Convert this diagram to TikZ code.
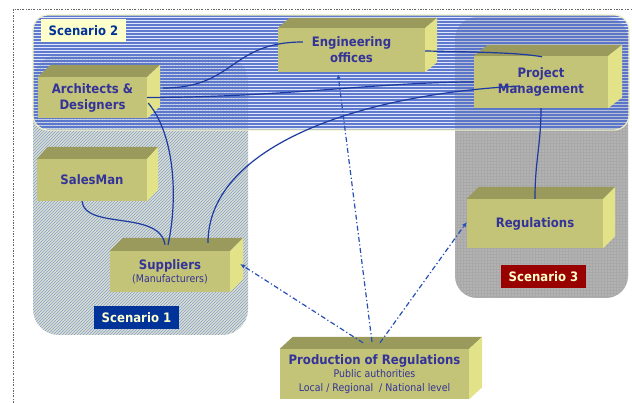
\documentclass[tikz,border=0pt]{standalone}
\usepackage{fontspec}
\setmainfont{DejaVu Sans}[FakeStretch=0.9]
\usetikzlibrary{patterns.meta,arrows.meta,calc}
\definecolor{boxfront}{RGB}{196,196,120}
\definecolor{boxtop}{RGB}{154,154,92}
\definecolor{boxside}{RGB}{226,226,136}
\definecolor{txtblue}{RGB}{51,51,153}
\definecolor{linkblue}{RGB}{28,58,160}
\definecolor{arrowblue}{RGB}{40,80,180}
\definecolor{sctwofill}{RGB}{200,212,244}
\definecolor{sctwoline}{RGB}{74,104,200}
\definecolor{sconefill}{RGB}{228,230,210}
\definecolor{sconeline}{RGB}{150,170,204}
\definecolor{scthreefill}{RGB}{168,168,168}
\definecolor{scthreedot}{RGB}{212,212,212}
\definecolor{labyellow}{RGB}{255,255,204}
\definecolor{labblue}{RGB}{0,51,153}
\definecolor{labred}{RGB}{153,0,0}
\definecolor{rimyellow}{RGB}{240,240,196}
\newcommand\cubefaces[3]{%
  \fill[boxtop] (#1.north west) -- ++(#2,-#3) -- ([shift={(#2,-#3)}]#1.north east) -- (#1.north east) -- cycle;
  \fill[boxside] (#1.north east) -- ++(#2,-#3) -- ([shift={(#2,-#3)}]#1.south east) -- (#1.south east) -- cycle;
}
\newcommand\smallmd{\fontsize{10.5}{12}\selectfont\mdseries}
\begin{document}
\begin{tikzpicture}[x=1pt,y=-1pt,
  cube/.style={fill=boxfront, inner sep=0pt, align=center, text=txtblue,
    font=\fontsize{13}{16}\selectfont\bfseries},
  link/.style={linkblue, line width=1.2pt},
  regarrow/.style={arrowblue, line width=1.2pt,
    dash pattern=on 5pt off 2.5pt on 1.2pt off 2.5pt,
    -{Latex[length=5pt,width=4.5pt]}},
  sclabel/.style={inner sep=0pt, minimum width=85pt, minimum height=23pt,
    font=\fontsize{13}{14}\selectfont\bfseries}
]
\useasboundingbox (0,0) rectangle (632,403);
\fill[white] (0,0) rectangle (632,403);
% frame
\draw[gray!80!black, line width=0.6pt, dash pattern=on 2pt off 1.5pt on 0.6pt off 1.5pt]
  (13,403) -- (13,9) -- (632,9);
% scenario 1 region (hatched)
\fill[sconefill, rounded corners=26pt] (33,55) rectangle (248,335);
\begin{scope}
  \clip[rounded corners=26pt] (33,55) rectangle (248,335);
  \foreach \x in {-248,-245,...,250}
    \draw[sconeline, line width=0.8pt] (\x,336) -- ++(282,-282);
\end{scope}
% scenario 3 region (dotted)
\fill[scthreefill, rounded corners=22pt] (455,17) rectangle (628,298);
\fill[pattern={Dots[distance=3pt,radius=0.7pt]}, pattern color=scthreedot, rounded corners=22pt] (455,17) rectangle (628,298);
% scenario 2 region (striped)
\fill[sctwofill, fill opacity=0.55, rounded corners=15pt] (33,15) rectangle (629,130);
\begin{scope}
  \clip[rounded corners=15pt] (33,15) rectangle (629,130);
  \foreach \y in {16,19,...,130}
    \draw[sctwoline, line width=2pt, opacity=0.85] (30,\y) -- (632,\y);
\end{scope}
\draw[rimyellow, line width=1.2pt, rounded corners=15pt] (33,15) rectangle (629,130);
% scenario labels
\node[sclabel, fill=labyellow, text=labblue] (sc2) at (83.5,31) {Scenario 2};
\node[sclabel, fill=labblue, text=labyellow] (sc1) at (136.5,317.5) {Scenario 1};
\node[sclabel, fill=labred, text=labyellow] (sc3) at (543.5,276.5) {Scenario 3};
% boxes
\node[cube, minimum width=147pt, minimum height=44pt] (eng) at (351.5,50) {Engineering\\offices};
\cubefaces{eng}{12}{10}
\node[cube, minimum width=109pt, minimum height=41pt] (arch) at (92.5,97.5) {Architects \&\\Designers};
\cubefaces{arch}{13}{12}
\node[cube, minimum width=134pt, minimum height=52pt] (pm) at (541,82) {Project\\Management};
\cubefaces{pm}{14}{11}
\node[cube, minimum width=110pt, minimum height=42pt] (sales) at (92,180) {SalesMan};
\cubefaces{sales}{11}{12}
\node[cube, minimum width=120pt, minimum height=41pt] (sup) at (170,271.5) {Suppliers\\[-3pt]{\smallmd (Manufacturers)}};
\cubefaces{sup}{13}{13}
\node[cube, minimum width=136pt, minimum height=49pt] (reg) at (535,223.5) {Regulations};
\cubefaces{reg}{12}{12}
\node[cube, minimum width=189pt, minimum height=50pt] (prod) at (374.5,374) {Production of Regulations\\[-3pt]{\smallmd Public authorities}\\[-2pt]{\smallmd Local / Regional \ / National level}};
\cubefaces{prod}{13}{12}
% connectors
\draw[link] ([shift={(16,-9.5)}]arch.east) .. controls +(72,0) and +(-73,0) .. ([shift={(25,-8)}]eng.west);
\draw[link] (arch.east) .. controls +(133,0) and +(-94,0) .. (pm.west);
\draw[link] ([shift={(38,-8)}]sup.north) .. controls +(0,-93) and +(-170,9) .. ([shift={(46,4)}]pm.west);
\draw[link] ([shift={(0,1)}]eng.east) .. controls +(55,1) and +(-22,-4) .. ([shift={(1,1)}]pm.north);
\draw[link] (pm.south) .. controls +(0,37) and +(0,-39) .. (reg.north);
\draw[link] ([shift={(1,5.5)}]arch.east) .. controls +(27,32) and +(10,-45) .. ([shift={(-2,-6)}]sup.north);
\draw[link] ([shift={(-10,0)}]sales.south) .. controls +(3,29) and +(-5,-35) .. ([shift={(-5,-6)}]sup.north);
% regulation arrows
\draw[regarrow] ([shift={(-11.5,-6)}]prod.north) -- ([shift={(10,-7.5)}]sup.east);
\draw[regarrow] ([shift={(-2.5,-7)}]prod.north) -- ([shift={(-13.5,2)}]eng.south);
\draw[regarrow] ([shift={(5.5,-6)}]prod.north) -- ([shift={(0,-1.5)}]reg.west);
\end{tikzpicture}
\end{document}
